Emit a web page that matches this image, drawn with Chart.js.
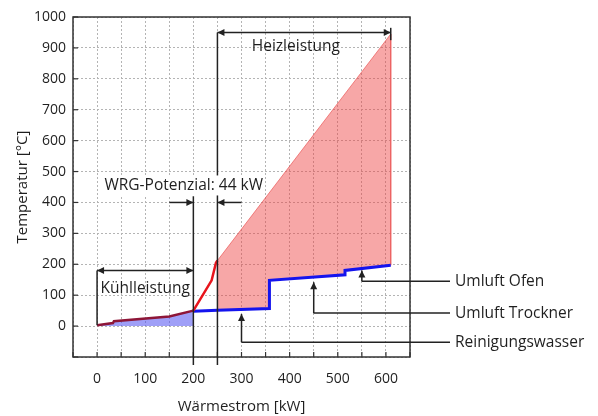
<!DOCTYPE html>
<html><head><meta charset="utf-8">
<script src="https://cdn.jsdelivr.net/npm/chart.js@4"></script>
<style>html,body{margin:0;padding:0;background:#fff}#wrap{width:598px;height:416px}</style>
</head><body><div id="wrap"><canvas id="c" width="598" height="416"></canvas></div>
<script>
// Hot composite curve (lower part, cooling region)
const hotLowX = [0, 33, 35, 150, 200];
const hotLowY = [3, 10, 16, 31, 50];
// Hot composite curve (steep middle part)
const hotMidX = [200, 238, 247, 250];
const hotMidY = [50, 148, 205, 212];
// Hot composite curve (upper part, heating region)
const hotHighX = [250, 610];
const hotHighY = [212, 945];
// Cold composite curve
const coldX = [200, 250, 358, 358, 515, 515, 610];
const coldY = [48, 51, 57, 148, 166, 180, 197];
// Ticks
const xTickValues = [-50, 0, 50, 100, 150, 200, 250, 300, 350, 400, 450, 500, 550, 600, 650];
const xTickLabels = ['', '0', '', '100', '', '200', '', '300', '', '400', '', '500', '', '600', ''];
const yTickValues = [-100, 0, 100, 200, 300, 400, 500, 600, 700, 800, 900, 1000];
const yTickLabels = ['', '0', '100', '200', '300', '400', '500', '600', '700', '800', '900', '1000'];
// Annotation texts
const labelHeiz = 'Heizleistung';
const labelKuehl = 'Kühlleistung';
const labelWRG = 'WRG-Potenzial: 44 kW';
const streamLabels = ['Umluft Ofen', 'Umluft Trockner', 'Reinigungswasser'];

const pts = (xs, ys) => xs.map((x, i) => ({x: x, y: ys[i]}));
const pinkPoly = pts(hotHighX, hotHighY).concat(
  pts(coldX, coldY).filter(p => p.x >= hotHighX[0]).reverse());

const FONT = '"Open Sans", sans-serif';
const FS = 14;
const FA = 15.5;
const TXT = '#1f1f1f';

function arrowHead(ctx, x, y, ang) {
  const L = 7, W = 3.5;
  ctx.save();
  ctx.translate(x, y); ctx.rotate(ang);
  ctx.beginPath();
  ctx.moveTo(0, 0); ctx.lineTo(-L, -W); ctx.lineTo(-L, W); ctx.closePath();
  ctx.fill();
  ctx.restore();
}
function line(ctx, x1, y1, x2, y2) {
  ctx.beginPath(); ctx.moveTo(x1, y1); ctx.lineTo(x2, y2); ctx.stroke();
}

const framePlugin = {
  id: 'frame',
  afterDatasetsDraw(chart) {
    const {ctx, chartArea: a, scales: {x, y}} = chart;
    ctx.save();
    ctx.strokeStyle = '#333'; ctx.lineWidth = 1.5;
    ctx.strokeRect(a.left, a.top, a.right - a.left, a.bottom - a.top);
    ctx.lineWidth = 1.2;
    xTickValues.forEach(v => { const px = x.getPixelForValue(v); line(ctx, px, a.bottom, px, a.bottom - 5); });
    yTickValues.forEach(v => { const py = y.getPixelForValue(v); line(ctx, a.left, py, a.left + 5, py); });

    const X = v => x.getPixelForValue(v), Y = v => y.getPixelForValue(v);
    ctx.strokeStyle = '#222'; ctx.fillStyle = '#222'; ctx.lineWidth = 1.5;
    // Heizleistung
    line(ctx, X(250), Y(950), X(610), Y(950));
    arrowHead(ctx, X(250), Y(950), Math.PI);
    arrowHead(ctx, X(610), Y(950), 0);
    line(ctx, X(610), Y(965), X(610), Y(925));
    line(ctx, X(250), Y(950), X(250), a.bottom + 8);
    // line at 200
    line(ctx, X(200), Y(420), X(200), a.bottom + 8);
    // Kühlleistung
    line(ctx, X(0), Y(180), X(200), Y(180));
    arrowHead(ctx, X(0), Y(180), Math.PI);
    arrowHead(ctx, X(200), Y(180), 0);
    line(ctx, X(0), Y(180), X(0), Y(3));
    // WRG arrows
    line(ctx, X(150), Y(400), X(200), Y(400));
    arrowHead(ctx, X(200), Y(400), 0);
    line(ctx, X(300), Y(400), X(250), Y(400));
    arrowHead(ctx, X(250), Y(400), Math.PI);
    // stream leaders
    const leaders = [[550, 180, 145], [450, 142, 42], [300, 39, -52]];
    const xEnd = a.right + 40;
    leaders.forEach(([vx, tip, bend], i) => {
      line(ctx, X(vx), Y(tip), X(vx), Y(bend));
      line(ctx, X(vx), Y(bend), xEnd, Y(bend));
      arrowHead(ctx, X(vx), Y(tip), -Math.PI / 2);
      ctx.font = FA + 'px ' + FONT; ctx.fillStyle = TXT;
      ctx.textAlign = 'left'; ctx.textBaseline = 'middle';
      ctx.fillText(streamLabels[i], xEnd + 5, Y(bend));
      ctx.fillStyle = '#222';
    });
    // texts
    ctx.font = FA + 'px ' + FONT; ctx.textAlign = 'center'; ctx.textBaseline = 'middle';
    ctx.fillStyle = TXT;
    ctx.fillText(labelHeiz, X(413), Y(905));
    ctx.fillText(labelKuehl, X(100), Y(120));
    const w = ctx.measureText(labelWRG).width;
    ctx.fillStyle = '#fff';
    ctx.fillRect(X(180) - w / 2 - 2, Y(455) - 10, w + 4, 20);
    ctx.fillStyle = TXT;
    ctx.fillText(labelWRG, X(180), Y(455));
    ctx.restore();
  }
};

new Chart(document.getElementById('c'), {
  type: 'scatter',
  data: {
    datasets: [
      { data: pinkPoly, showLine: true, fill: 'shape', backgroundColor: 'rgba(238,60,60,0.45)',
        borderColor: 'rgba(235,90,90,0.7)', borderWidth: 1, pointRadius: 0, order: 10 },
      { data: pts(hotLowX, hotLowY), showLine: true, fill: 'origin', backgroundColor: 'rgba(80,80,240,0.55)',
        borderColor: '#8e1638', borderWidth: 2.5, pointRadius: 0, order: 2 },
      { data: pts(coldX, coldY), showLine: true, fill: false,
        borderColor: '#1414ee', borderWidth: 3, pointRadius: 0, order: 1 },
      { data: pts(hotMidX, hotMidY), showLine: true, fill: false,
        borderColor: '#e8141c', borderWidth: 2.5, pointRadius: 0, order: 0 }
    ]
  },
  options: {
    responsive: false, animation: false, devicePixelRatio: 1,
    layout: { padding: { left: 0, top: 17, right: 188, bottom: 0 } },
    plugins: { legend: { display: false }, tooltip: { enabled: false } },
    scales: {
      x: {
        type: 'linear', min: -50, max: 650,
        afterFit: s => { s.height = 59; },
        afterBuildTicks: s => { s.ticks = xTickValues.map(v => ({value: v})); },
        ticks: { callback: (v, i) => xTickLabels[i], color: TXT, font: {family: FONT, size: FS}, padding: 14, maxRotation: 0, autoSkip: false },
        grid: { color: '#b4b4b4', lineWidth: 1, drawTicks: false },
        border: { display: false, dash: [2, 2] },
        title: { display: true, text: 'Wärmestrom [kW]', color: TXT, font: {family: FONT, size: 15}, padding: {top: 0, bottom: 0} }
      },
      y: {
        type: 'linear', min: -100, max: 1000,
        afterFit: s => { s.width = 73; },
        afterBuildTicks: s => { s.ticks = yTickValues.map(v => ({value: v})); },
        ticks: { callback: (v, i) => yTickLabels[i], color: TXT, font: {family: FONT, size: FS}, padding: 7, autoSkip: false },
        grid: { color: '#b4b4b4', lineWidth: 1, drawTicks: false },
        border: { display: false, dash: [2, 2] },
        title: { display: true, text: 'Temperatur [°C]', color: TXT, font: {family: FONT, size: 15}, padding: {top: 14, bottom: 0} }
      }
    }
  },
  plugins: [framePlugin]
});
</script>
</body></html>
